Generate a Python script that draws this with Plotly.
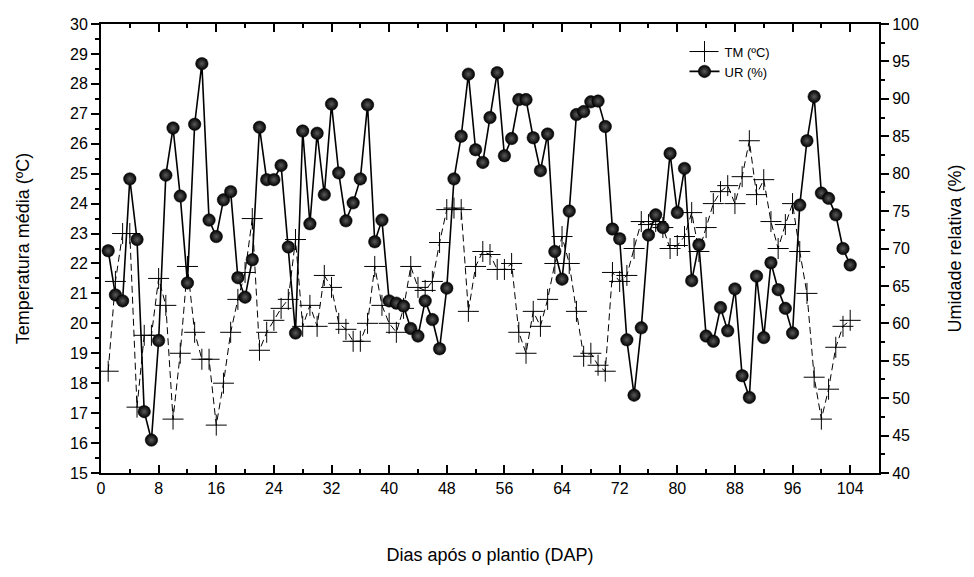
import plotly.graph_objects as go

days = list(range(1, 105))

tm = [18.4, 21.4, 23.0, 23.0, 17.2, 19.6, 19.6, 21.5, 20.6, 16.8,
      19.0, 21.9, 19.7, 18.8, 18.8, 16.6, 18.0, 19.7, 20.8, 21.7,
      23.5, 19.1, 19.7, 20.1, 20.5, 20.8, 22.8, 19.9, 20.6, 19.9,
      21.6, 21.2, 20.0, 19.8, 19.4, 19.4, 20.0, 21.9, 20.6, 20.0,
      19.7, 20.5, 21.9, 21.2, 21.1, 21.4, 22.7, 23.8, 23.85, 23.8,
      20.4, 21.9, 22.4, 22.3, 21.8, 21.8, 22.0, 19.7, 19.0, 20.4,
      19.9, 20.8, 22.0, 22.9, 22.0, 20.4, 18.9, 19.0, 18.6, 18.4,
      21.7, 21.4, 21.6, 22.5, 23.4, 23.3, 23.4, 23.2, 22.5, 22.6,
      22.9, 23.7, 22.4, 23.2, 24.0, 24.4, 24.6, 24.0, 24.9, 26.1,
      24.3, 24.8, 23.4, 22.5, 23.3, 24.0, 22.4, 21.0, 18.2, 16.8,
      17.8, 19.2, 19.9, 20.1]

ur = [69.7, 63.8, 63.0, 79.3, 71.2, 48.2, 44.4, 57.7, 79.8, 86.1,
      77.0, 65.4, 86.6, 94.7, 73.8, 71.6, 76.5, 77.6, 66.1, 63.5,
      68.5, 86.2, 79.2, 79.2, 81.1, 70.2, 58.7, 85.7, 73.3, 85.4,
      77.2, 89.3, 80.1, 73.7, 76.1, 79.3, 89.2, 70.9, 73.8, 63.0,
      62.7, 62.3, 59.3, 58.3, 63.0, 60.5, 56.6, 64.7, 79.3, 85.0,
      93.3, 83.2, 81.5, 87.5, 93.5, 82.4, 84.7, 89.9, 89.9, 84.8,
      80.4, 85.3, 69.6, 65.9, 75.0, 87.9, 88.3, 89.6, 89.7, 86.3,
      72.6, 71.3, 57.8, 50.4, 59.4, 71.8, 74.5, 72.8, 82.7, 74.8,
      80.7, 65.7, 70.5, 58.3, 57.6, 62.1, 59.0, 64.6, 53.0, 50.1,
      66.3, 58.1, 68.1, 64.5, 62.0, 58.7, 75.8, 84.4, 90.3, 77.4,
      76.7, 74.5, 70.0, 67.8]

x_ticks = list(range(0, 105, 8))
font_family = "Liberation Sans, Arial, sans-serif"

fig = go.Figure()
fig.add_trace(go.Scatter(
    x=days, y=tm, name="TM (ºC)", mode="lines+markers",
    line=dict(color="black", width=1, dash="7px,4px"),
    marker=dict(symbol="cross-thin", size=15, color="black",
                line=dict(color="black", width=1)),
    yaxis="y"))
fig.add_trace(go.Scatter(
    x=days, y=ur, name="UR (%)", mode="lines+markers",
    line=dict(color="black", width=1.6),
    marker=dict(symbol="circle", size=12.5, color="black",
                gradient=dict(type="radial", color="#5a5a5a"),
                line=dict(color="black", width=0.5)),
    yaxis="y2"))

fig.update_layout(
    width=974, height=577,
    margin=dict(l=101, r=95, t=24, b=104),
    paper_bgcolor="white", plot_bgcolor="white",
    font=dict(family=font_family, color="black", size=15),
    showlegend=True,
    legend=dict(x=0.75, y=0.972, xanchor="left", yanchor="top",
                bgcolor="rgba(0,0,0,0)", font=dict(size=13),
                itemwidth=30, tracegroupgap=0),
    xaxis=dict(range=[0, 108], tickvals=x_ticks, ticks="inside", ticklen=8,
               tickwidth=1.5, tickcolor="black", showline=True, linewidth=2,
               linecolor="black", mirror="ticks", showgrid=False, zeroline=False,
               tickfont=dict(size=16),
               minor=dict(dtick=4, tick0=0, ticks="inside", ticklen=4,
                          tickwidth=1.5, tickcolor="black"),
               title=dict(text="Dias após o plantio (DAP)", font=dict(size=18),
                          standoff=52)),
    yaxis=dict(range=[15, 30], dtick=1, ticks="outside", ticklen=8, tickwidth=1.5,
               tickcolor="black", showline=True, linewidth=2, linecolor="black",
               showgrid=False, zeroline=False, tickfont=dict(size=16),
               minor=dict(dtick=0.5, ticks="outside", ticklen=4, tickwidth=1.5,
                          tickcolor="black"),
               title=dict(text="Temperatura média (ºC)", font=dict(size=18),
                          standoff=36)),
    yaxis2=dict(range=[40, 100], dtick=5, overlaying="y", side="right",
                ticks="outside", ticklen=8, tickwidth=1.5, tickcolor="black",
                showline=True, linewidth=2, linecolor="black",
                showgrid=False, zeroline=False, tickfont=dict(size=16),
                minor=dict(dtick=2.5, ticks="outside", ticklen=4, tickwidth=1.5,
                           tickcolor="black"),
                title=dict(text="Umidade relativa (%)", font=dict(size=18),
                           standoff=30)),
)

fig.write_html("out.html")
